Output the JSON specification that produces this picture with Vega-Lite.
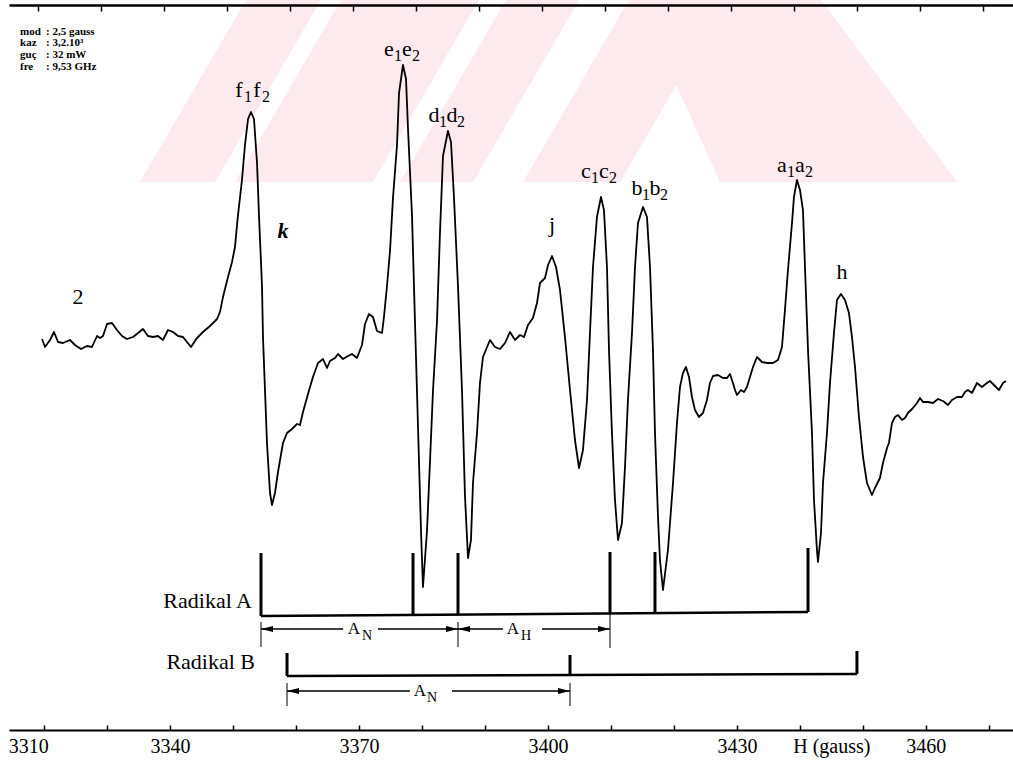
{
  "$schema": "https://vega.github.io/schema/vega-lite/v6.json",
  "width": 1004,
  "height": 725,
  "autosize": {"type": "none"},
  "padding": {"left": 9, "top": 5, "right": 0, "bottom": 33},
  "background": "white",
  "config": {"view": {"stroke": null}, "font": "Liberation Serif", "axis": {"grid": false}},
  "datasets": {
    "watermark": [
      {"band":"A","S":558,"G":3335.25,"G2":3347.16},{"band":"A","S":740,"G":3352.08,"G2":3363.98},
      {"band":"B","S":558,"G":3350.33,"G2":3372.24},{"band":"B","S":740,"G":3367.16,"G2":3389.06},
      {"band":"C","S":558,"G":3376.52,"G2":3388.11},{"band":"C","S":740,"G":3393.35,"G2":3404.94},
      {"band":"D","S":558,"G":3396.05,"G2":3411.44},{"band":"D","S":740,"G":3412.87,"G2":3428.27},
      {"band":"E","S":558,"G":3427.32,"G2":3464.94},{"band":"E","S":740,"G":3414.30,"G2":3443.35}
    ],
    "spectrum": [
      {"G":3319.70,"S":401},{"G":3320.17,"S":393},{"G":3320.97,"S":400},{"G":3321.60,"S":408},{"G":3322.24,"S":398},{"G":3323.03,"S":397},{"G":3324.14,"S":400},{"G":3324.94,"S":395},{"G":3325.89,"S":391},{"G":3326.84,"S":394},{"G":3327.63,"S":393},{"G":3328.43,"S":404},{"G":3328.90,"S":402},{"G":3329.38,"S":404},{"G":3330.02,"S":416},{"G":3330.81,"S":417},{"G":3331.60,"S":410},{"G":3332.40,"S":404},{"G":3333.19,"S":401},{"G":3334.14,"S":403},{"G":3334.94,"S":407},{"G":3335.73,"S":411},{"G":3336.52,"S":404},{"G":3337.32,"S":403},{"G":3338.11,"S":404},{"G":3338.90,"S":400},{"G":3339.70,"S":410},{"G":3340.49,"S":408},{"G":3341.29,"S":404},{"G":3342.08,"S":403},{"G":3342.71,"S":398},{"G":3343.35,"S":393},{"G":3344.30,"S":402},{"G":3345.25,"S":408},{"G":3346.37,"S":414},{"G":3347.48,"S":421},{"G":3347.95,"S":428},{"G":3348.43,"S":443},{"G":3349.22,"S":463},{"G":3349.86,"S":478},{"G":3350.33,"S":493},{"G":3350.81,"S":525},{"G":3351.44,"S":560},{"G":3351.92,"S":595},{"G":3352.40,"S":621},{"G":3352.87,"S":628},{"G":3353.35,"S":621},{"G":3353.83,"S":577},{"G":3354.14,"S":525},{"G":3354.62,"S":454},{"G":3354.78,"S":402},{"G":3355.10,"S":349},{"G":3355.41,"S":297},{"G":3355.89,"S":247},{"G":3356.21,"S":235},{"G":3356.68,"S":247},{"G":3357.16,"S":268},{"G":3357.95,"S":297},{"G":3358.59,"S":307},{"G":3359.38,"S":311},{"G":3360.17,"S":316},{"G":3360.65,"S":315},{"G":3361.13,"S":328},{"G":3361.92,"S":346},{"G":3362.71,"S":363},{"G":3363.51,"S":377},{"G":3364.30,"S":381},{"G":3364.94,"S":372},{"G":3365.41,"S":379},{"G":3366.21,"S":382},{"G":3366.68,"S":386},{"G":3367.48,"S":381},{"G":3368.27,"S":384},{"G":3368.90,"S":386},{"G":3369.70,"S":382},{"G":3370.49,"S":395},{"G":3370.97,"S":416},{"G":3371.60,"S":426},{"G":3372.24,"S":423},{"G":3372.87,"S":409},{"G":3373.67,"S":407},{"G":3373.98,"S":423},{"G":3374.46,"S":454},{"G":3374.94,"S":489},{"G":3375.41,"S":542},{"G":3376.05,"S":595},{"G":3376.37,"S":647},{"G":3377.00,"S":675},{"G":3377.48,"S":661},{"G":3377.79,"S":612},{"G":3378.43,"S":525},{"G":3378.90,"S":419},{"G":3379.38,"S":314},{"G":3379.86,"S":209},{"G":3380.17,"S":153},{"G":3380.81,"S":209},{"G":3381.29,"S":279},{"G":3381.76,"S":349},{"G":3382.40,"S":419},{"G":3382.87,"S":507},{"G":3383.35,"S":584},{"G":3384.14,"S":609},{"G":3384.62,"S":598},{"G":3385.10,"S":542},{"G":3385.73,"S":454},{"G":3386.37,"S":349},{"G":3386.84,"S":244},{"G":3387.32,"S":182},{"G":3387.79,"S":200},{"G":3388.11,"S":257},{"G":3388.75,"S":307},{"G":3389.22,"S":357},{"G":3389.70,"S":383},{"G":3390.81,"S":400},{"G":3391.60,"S":393},{"G":3392.40,"S":391},{"G":3393.19,"S":397},{"G":3393.98,"S":408},{"G":3394.78,"S":400},{"G":3395.57,"S":405},{"G":3396.21,"S":403},{"G":3396.84,"S":415},{"G":3397.63,"S":422},{"G":3398.27,"S":437},{"G":3398.75,"S":457},{"G":3399.54,"S":462},{"G":3400.02,"S":475},{"G":3400.65,"S":484},{"G":3401.29,"S":473},{"G":3401.92,"S":450},{"G":3402.71,"S":403},{"G":3403.51,"S":350},{"G":3404.30,"S":300},{"G":3404.94,"S":272},{"G":3405.57,"S":290},{"G":3406.21,"S":340},{"G":3406.68,"S":407},{"G":3407.16,"S":473},{"G":3407.79,"S":523},{"G":3408.43,"S":543},{"G":3408.90,"S":530},{"G":3409.38,"S":473},{"G":3409.70,"S":390},{"G":3410.17,"S":307},{"G":3410.65,"S":240},{"G":3411.13,"S":200},{"G":3411.76,"S":217},{"G":3412.24,"S":273},{"G":3412.71,"S":340},{"G":3413.35,"S":407},{"G":3413.83,"S":473},{"G":3414.30,"S":517},{"G":3415.10,"S":533},{"G":3415.73,"S":523},{"G":3416.21,"S":473},{"G":3416.68,"S":390},{"G":3417.00,"S":307},{"G":3417.48,"S":223},{"G":3417.79,"S":180},{"G":3418.27,"S":150},{"G":3419.06,"S":190},{"G":3419.86,"S":257},{"G":3420.49,"S":317},{"G":3420.97,"S":353},{"G":3421.44,"S":367},{"G":3421.92,"S":373},{"G":3422.40,"S":363},{"G":3422.87,"S":343},{"G":3423.35,"S":330},{"G":3423.98,"S":323},{"G":3424.62,"S":327},{"G":3425.25,"S":340},{"G":3425.73,"S":357},{"G":3426.21,"S":364},{"G":3427.00,"S":365},{"G":3427.79,"S":362},{"G":3428.43,"S":362},{"G":3428.90,"S":366},{"G":3429.38,"S":357},{"G":3429.70,"S":350},{"G":3430.02,"S":345},{"G":3430.65,"S":350},{"G":3431.13,"S":348},{"G":3431.60,"S":353},{"G":3432.08,"S":363},{"G":3432.56,"S":373},{"G":3433.19,"S":383},{"G":3433.98,"S":378},{"G":3434.78,"S":377},{"G":3435.73,"S":377},{"G":3436.52,"S":380},{"G":3437.16,"S":393},{"G":3437.63,"S":430},{"G":3438.11,"S":470},{"G":3438.75,"S":517},{"G":3439.06,"S":543},{"G":3439.54,"S":560},{"G":3440.02,"S":550},{"G":3440.49,"S":530},{"G":3440.81,"S":473},{"G":3441.29,"S":390},{"G":3441.92,"S":307},{"G":3442.24,"S":240},{"G":3442.71,"S":190},{"G":3442.87,"S":178},{"G":3443.35,"S":207},{"G":3443.67,"S":257},{"G":3444.30,"S":307},{"G":3444.78,"S":357},{"G":3445.41,"S":407},{"G":3445.89,"S":440},{"G":3446.52,"S":446},{"G":3447.16,"S":440},{"G":3447.79,"S":427},{"G":3448.27,"S":403},{"G":3448.75,"S":373},{"G":3449.38,"S":323},{"G":3450.02,"S":283},{"G":3450.65,"S":257},{"G":3451.44,"S":245},{"G":3451.92,"S":252},{"G":3452.71,"S":262},{"G":3453.19,"S":277},{"G":3453.83,"S":292},{"G":3454.14,"S":297},{"G":3454.62,"S":317},{"G":3455.10,"S":323},{"G":3455.57,"S":325},{"G":3456.21,"S":320},{"G":3456.68,"S":322},{"G":3457.16,"S":327},{"G":3457.95,"S":332},{"G":3458.59,"S":337},{"G":3459.06,"S":342},{"G":3459.54,"S":338},{"G":3460.33,"S":338},{"G":3461.13,"S":337},{"G":3461.92,"S":341},{"G":3462.71,"S":339},{"G":3463.51,"S":335},{"G":3464.14,"S":340},{"G":3464.94,"S":343},{"G":3465.73,"S":343},{"G":3466.21,"S":348},{"G":3466.68,"S":350},{"G":3467.32,"S":347},{"G":3468.11,"S":357},{"G":3468.90,"S":353},{"G":3469.70,"S":357},{"G":3470.17,"S":359},{"G":3470.81,"S":355},{"G":3471.60,"S":350},{"G":3472.24,"S":357},{"G":3472.71,"S":359}
    ],
    "sticks": [
      {"radical":"A","G":3354.46,"S":187,"S2":124},{"radical":"A","G":3378.59,"S":187,"S2":126},{"radical":"A","G":3385.73,"S":187,"S2":126},{"radical":"A","G":3409.86,"S":188,"S2":127},{"radical":"A","G":3417.00,"S":188,"S2":127},{"radical":"A","G":3441.29,"S":192,"S2":128},
      {"radical":"B","G":3358.59,"S":87,"S2":64},{"radical":"B","G":3403.51,"S":85,"S2":65},{"radical":"B","G":3449.06,"S":89,"S2":66}
    ],
    "baselines": [
      {"radical":"A","G":3354.46,"G2":3441.29,"S":124,"S2":128},
      {"radical":"B","G":3358.59,"G2":3449.06,"S":64,"S2":66}
    ],
    "shafts": [
      {"G":3354.46,"G2":3367.48,"S":111},{"G":3373.03,"G2":3385.73,"S":111},
      {"G":3385.73,"G2":3392.87,"S":111},{"G":3399.06,"G2":3409.86,"S":111},
      {"G":3358.59,"G2":3378.11,"S":49},{"G":3384.78,"G2":3403.51,"S":49}
    ],
    "heads": [
      {"G":3354.46,"S":111,"dir":"left"},{"G":3385.73,"S":111,"dir":"right"},
      {"G":3385.73,"S":111,"dir":"left"},{"G":3409.86,"S":111,"dir":"right"},
      {"G":3358.59,"S":49,"dir":"left"},{"G":3403.51,"S":49,"dir":"right"}
    ],
    "guides": [
      {"G":3354.46,"S":118,"S2":93},{"G":3385.73,"S":118,"S2":93},{"G":3409.86,"S":128,"S2":92},
      {"G":3358.59,"S":57,"S2":34},{"G":3403.51,"S":57,"S2":34}
    ],
    "dimMain": [
      {"t":"A","G":3369.22,"S":111},{"t":"A","G":3394.46,"S":111},{"t":"A","G":3379.70,"S":49}
    ],
    "dimSub": [
      {"t":"N","G":3371.30,"S":104},{"t":"H","G":3396.54,"S":104},{"t":"N","G":3381.62,"S":42}
    ],
    "radLabels": [
      {"t":"Radikal   A","G":3353.03,"S":139},{"t":"Radikal   B","G":3353.51,"S":78}
    ],
    "pairs": [
      {"l":"f","G":3353.03,"S":648},{"l":"e","G":3376.84,"S":689},{"l":"d","G":3383.98,"S":623},
      {"l":"c","G":3408.11,"S":567},{"l":"b","G":3416.21,"S":550},{"l":"a","G":3439.22,"S":573}
    ],
    "singles": [
      {"t":"j","G":3400.65,"S":515},{"t":"h","G":3446.68,"S":468},{"t":"2","G":3325.41,"S":443}
    ],
    "italic": [
      {"t":"k","G":3357.95,"S":509}
    ],
    "info": [
      {"k":"mod","v":": 2,5 gauss","G":3316.21,"Gv":3320.33,"S":708},
      {"k":"kaz","v":": 3,2.10³","G":3316.21,"Gv":3320.33,"S":697},
      {"k":"guç","v":": 32 mW","G":3316.21,"Gv":3320.33,"S":685},
      {"k":"fre","v":": 9,53 GHz","G":3316.21,"Gv":3320.33,"S":673}
    ]
  },
  "layer": [
    {
      "data": {"name": "watermark"},
      "mark": {"type": "area", "orient": "horizontal", "color": "#fdeaee", "opacity": 1},
      "encoding": {
        "x": {"field": "G", "type": "quantitative", "axis": null},
        "x2": {"field": "G2"},
        "y": {"field": "S", "type": "quantitative", "axis": null},
        "detail": {"field": "band", "type": "nominal"}
      }
    },
    {
      "data": {"name": "spectrum"},
      "mark": {"type": "line", "color": "black", "strokeWidth": 1.8, "strokeJoin": "round"},
      "encoding": {
        "x": {"field": "G", "type": "quantitative", "title": null,
              "scale": {"domain": [3314.46, 3473.83], "nice": false, "zero": false},
              "axis": {"orient": "bottom", "zindex": 1, "values": [3317.5,3320,3330,3340,3350,3360,3370,3380,3390,3400,3410,3420,3430,3440,3445,3450,3460,3470],
                       "domainColor": "black", "domainWidth": 2, "tickColor": "black", "tickWidth": 1.5, "tickSize": -5,
                       "tickOpacity": {"condition": {"test": "datum.value == 3317.5 || datum.value == 3445", "value": 0}, "value": 1},
                       "labelExpr": "datum.value == 3317.5 ? '3310' : datum.value == 3445 ? 'H (gauss)' : (datum.value == 3340 || datum.value == 3370 || datum.value == 3400 || datum.value == 3430 || datum.value == 3460) ? format(datum.value, 'd') : ''",
                       "labelFont": "Liberation Serif", "labelFontSize": 20, "labelColor": "black", "labelPadding": 11,
                       "labelBaseline": "top", "labelFlush": false, "labelOverlap": false, "grid": false, "title": null}},
        "y": {"field": "S", "type": "quantitative", "title": null,
              "scale": {"domain": [10, 735], "nice": false, "zero": false},
              "axis": {"orient": "left", "zindex": 1, "domainColor": "black", "domainWidth": 2, "ticks": false, "labels": false, "grid": false, "title": null}}
      }
    },
    {
      "data": {"name": "sticks"},
      "mark": {"type": "rule", "color": "black", "strokeWidth": 3},
      "encoding": {
        "x": {"field": "G", "type": "quantitative", "title": null,
              "axis": {"orient": "top", "zindex": 1, "values": [3319,3329,3339,3349,3359,3369,3379,3389,3399,3409,3419,3429,3439,3449,3459,3469],
                       "domainColor": "black", "domainWidth": 2.5, "tickColor": "black", "tickWidth": 1.5, "tickSize": -6,
                       "labels": false, "grid": false, "title": null}},
        "y": {"field": "S", "type": "quantitative", "axis": null},
        "y2": {"field": "S2"}
      }
    },
    {
      "data": {"name": "baselines"},
      "mark": {"type": "rule", "color": "black", "strokeWidth": 2.5},
      "encoding": {
        "x": {"field": "G", "type": "quantitative", "axis": null},
        "x2": {"field": "G2"},
        "y": {"field": "S", "type": "quantitative", "axis": null},
        "y2": {"field": "S2"}
      }
    },
    {
      "data": {"name": "shafts"},
      "mark": {"type": "rule", "color": "black", "strokeWidth": 1.4},
      "encoding": {
        "x": {"field": "G", "type": "quantitative", "axis": null},
        "x2": {"field": "G2"},
        "y": {"field": "S", "type": "quantitative", "axis": null}
      }
    },
    {
      "data": {"name": "guides"},
      "mark": {"type": "rule", "color": "black", "strokeWidth": 1},
      "encoding": {
        "x": {"field": "G", "type": "quantitative", "axis": null},
        "y": {"field": "S", "type": "quantitative", "axis": null},
        "y2": {"field": "S2"}
      }
    },
    {
      "data": {"name": "heads"},
      "mark": {"type": "point", "filled": true, "color": "black", "opacity": 1, "size": 144, "strokeWidth": 0},
      "encoding": {
        "x": {"field": "G", "type": "quantitative", "axis": null},
        "y": {"field": "S", "type": "quantitative", "axis": null},
        "shape": {"field": "dir", "type": "nominal", "legend": null,
                  "scale": {"domain": ["left", "right"], "range": ["M0,0L2,-0.5L2,0.5Z", "M0,0L-2,-0.5L-2,0.5Z"]}}
      }
    },
    {
      "data": {"name": "dimMain"},
      "mark": {"type": "text", "font": "Liberation Serif", "fontSize": 17, "color": "black", "align": "center", "baseline": "middle"},
      "encoding": {
        "x": {"field": "G", "type": "quantitative", "axis": null},
        "y": {"field": "S", "type": "quantitative", "axis": null},
        "text": {"field": "t"}
      }
    },
    {
      "data": {"name": "dimSub"},
      "mark": {"type": "text", "font": "Liberation Serif", "fontSize": 14, "color": "black", "align": "center", "baseline": "middle"},
      "encoding": {
        "x": {"field": "G", "type": "quantitative", "axis": null},
        "y": {"field": "S", "type": "quantitative", "axis": null},
        "text": {"field": "t"}
      }
    },
    {
      "data": {"name": "radLabels"},
      "mark": {"type": "text", "font": "Liberation Serif", "fontSize": 22, "color": "black", "align": "right", "baseline": "middle"},
      "encoding": {
        "x": {"field": "G", "type": "quantitative", "axis": null},
        "y": {"field": "S", "type": "quantitative", "axis": null},
        "text": {"field": "t"}
      }
    },
    {
      "data": {"name": "pairs"},
      "mark": {"type": "text", "font": "Liberation Serif", "fontSize": 22, "color": "black", "align": "center", "baseline": "middle", "dx": -13, "dy": -2},
      "encoding": {
        "x": {"field": "G", "type": "quantitative", "axis": null},
        "y": {"field": "S", "type": "quantitative", "axis": null},
        "text": {"field": "l"}
      }
    },
    {
      "data": {"name": "pairs"},
      "mark": {"type": "text", "font": "Liberation Serif", "fontSize": 16, "color": "black", "align": "center", "baseline": "middle", "dx": -4, "dy": 5},
      "encoding": {
        "x": {"field": "G", "type": "quantitative", "axis": null},
        "y": {"field": "S", "type": "quantitative", "axis": null},
        "text": {"value": "1"}
      }
    },
    {
      "data": {"name": "pairs"},
      "mark": {"type": "text", "font": "Liberation Serif", "fontSize": 22, "color": "black", "align": "center", "baseline": "middle", "dx": 5, "dy": -2},
      "encoding": {
        "x": {"field": "G", "type": "quantitative", "axis": null},
        "y": {"field": "S", "type": "quantitative", "axis": null},
        "text": {"field": "l"}
      }
    },
    {
      "data": {"name": "pairs"},
      "mark": {"type": "text", "font": "Liberation Serif", "fontSize": 16, "color": "black", "align": "center", "baseline": "middle", "dx": 14, "dy": 5},
      "encoding": {
        "x": {"field": "G", "type": "quantitative", "axis": null},
        "y": {"field": "S", "type": "quantitative", "axis": null},
        "text": {"value": "2"}
      }
    },
    {
      "data": {"name": "singles"},
      "mark": {"type": "text", "font": "Liberation Serif", "fontSize": 22, "color": "black", "align": "center", "baseline": "middle"},
      "encoding": {
        "x": {"field": "G", "type": "quantitative", "axis": null},
        "y": {"field": "S", "type": "quantitative", "axis": null},
        "text": {"field": "t"}
      }
    },
    {
      "data": {"name": "italic"},
      "mark": {"type": "text", "font": "Liberation Serif", "fontSize": 22, "fontStyle": "italic", "fontWeight": "bold", "color": "black", "align": "center", "baseline": "middle"},
      "encoding": {
        "x": {"field": "G", "type": "quantitative", "axis": null},
        "y": {"field": "S", "type": "quantitative", "axis": null},
        "text": {"field": "t"}
      }
    },
    {
      "data": {"name": "info"},
      "mark": {"type": "text", "font": "Liberation Serif", "fontSize": 11, "fontWeight": "bold", "color": "black", "align": "left", "baseline": "middle"},
      "encoding": {
        "x": {"field": "G", "type": "quantitative", "axis": null},
        "y": {"field": "S", "type": "quantitative", "axis": null},
        "text": {"field": "k"}
      }
    },
    {
      "data": {"name": "info"},
      "mark": {"type": "text", "font": "Liberation Serif", "fontSize": 11, "fontWeight": "bold", "color": "black", "align": "left", "baseline": "middle"},
      "encoding": {
        "x": {"field": "Gv", "type": "quantitative", "axis": null},
        "y": {"field": "S", "type": "quantitative", "axis": null},
        "text": {"field": "v"}
      }
    }
  ],
  "resolve": {"axis": {"x": "independent"}}
}
